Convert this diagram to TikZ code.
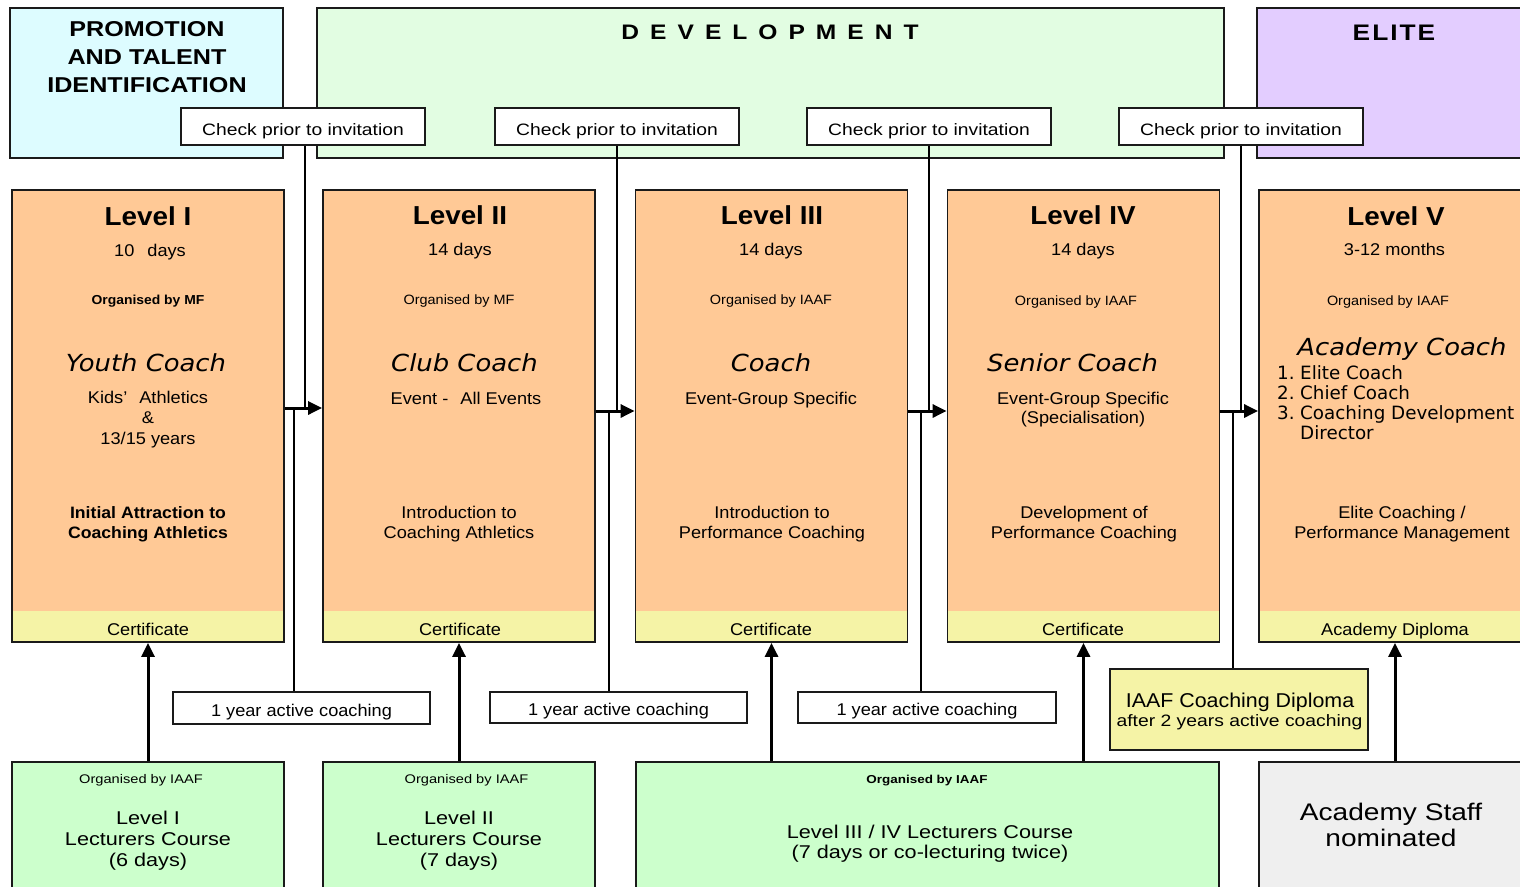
\documentclass[tikz,border=0pt]{standalone}
\usepackage{fontspec}
\usetikzlibrary{arrows.meta}
\setmainfont{Liberation Sans}[FakeStretch=1.07]
\newfontfamily\widefont{Liberation Sans}[FakeStretch=1.17]
\newfontfamily\rolefont{DejaVu Sans}[FakeStretch=1.1]
\newfontfamily\listfont{DejaVu Sans}
\newcommand\fsz[2]{\fontsize{#1pt}{#2pt}\selectfont}

\definecolor{edge}{HTML}{1A1A1A}
\definecolor{peach}{HTML}{FFC996}
\definecolor{band}{HTML}{F5F3A6}
\definecolor{promobg}{HTML}{DDFCFF}
\definecolor{devbg}{HTML}{E2FDE2}
\definecolor{elitebg}{HTML}{E3CDFF}
\definecolor{coursegreen}{HTML}{CCFFCC}
\definecolor{staffgray}{HTML}{EFEFEF}

\tikzset{
  box/.style={draw=edge, line width=1.5pt, inner sep=0pt},
  lvl/.style={box, line width=1.8pt, fill=peach, minimum width=272pt, minimum height=452pt,
    path picture={\fill[band] (path picture bounding box.south west) rectangle
      ([yshift=31pt]path picture bounding box.south east);}},
  hdr/.style={box, minimum height=150pt},
  tag/.style={box, fill=white},
  course/.style={box, minimum width=272pt, minimum height=148pt},
  % multi-line texts are placed by the baseline of their last line
  txt/.style={inner sep=0pt, anchor=base, align=center},
  link/.style={line width=1.4pt, draw=black},
  flow/.style={line width=3pt, draw=black, -{Triangle[length=14pt,width=13pt]}},
}

\begin{document}
\begin{tikzpicture}[x=1pt,y=-1pt]
\useasboundingbox (0,0) rectangle (1520,886);
\clip (0,0) rectangle (1520,886);

% ---- stage headers ----
\node[hdr, fill=promobg, minimum width=273pt] (promo) at (146.5,83) {};
\node[hdr, fill=devbg, minimum width=907pt] (dev) at (770.5,83) {};
\node[hdr, fill=elitebg, minimum width=273pt] (elite) at (1393.5,83) {};
\node[txt, font=\widefont\bfseries\fsz{21.5}{28.3}] (promoT) at (147,92.7)
  {PROMOTION\\AND TALENT\\IDENTIFICATION};
\node[txt, font=\widefont\bfseries\fsz{21}{25}] (devT) at (770,39.3)
  {D\kern11pt E\kern11pt V\kern11pt E\kern11pt L\kern11pt O\kern11pt P\kern11pt M\kern11pt E\kern11pt N\kern11pt T};
\node[txt, font=\widefont\bfseries\fsz{22.5}{26}] (eliteT) at (1394,40.7)
  {E\kern2pt L\kern2pt I\kern2pt T\kern2pt E};

% ---- entry checks ----
\foreach \n/\x in {c1/303, c2/617, c3/929, c4/1241}{
  \node[tag, minimum width=244pt, minimum height=37pt] (\n) at (\x,126.5) {};
  \node[txt, font=\widefont\fsz{16.5}{20}] (\n t) at (\x,135) {Check prior to invitation};
}

% ---- level boxes ----
\node[lvl] (L1) at (148,416) {};
\node[lvl] (L2) at (459,416) {};
\node[lvl] (L3) at (771.5,416) {};
\node[lvl] (L4) at (1083.5,416) {};
\node[lvl] (L5) at (1395,416) {};

\tikzset{
  ttl/.style={txt, font=\bfseries\fsz{26}{30}},
  dur/.style={txt, font=\fsz{17}{20}},
  org/.style={txt, font=\fsz{13.5}{16}},
  role/.style={txt, font=\rolefont\itshape\fsz{23.5}{28}},
  body/.style={txt, font=\fsz{17}{20.3}},
}

% Level I
\node[ttl] (L1t) at (148,225) {Level I};
\node[dur] (L1d) at (150,256) {10\hspace{8pt} days};
\node[org, font=\bfseries\fsz{13}{16}] (L1o) at (148,304) {Organised by MF};
\node[role] (L1r) at (146,371) {Youth Coach};
\node[body] (L1k) at (148,444) {Kids’\hspace{7pt} Athletics\\\&\\13/15 years};
\node[body, font=\bfseries\fsz{16.5}{20}] (L1a) at (148,538.7) {Initial Attraction to\\Coaching Athletics};
\node[dur] (L1c) at (148,635.3) {Certificate};

% Level II
\node[ttl] (L2t) at (460,224) {Level II};
\node[dur] (L2d) at (460,255) {14 days};
\node[org] (L2o) at (459,304) {Organised by MF};
\node[role] (L2r) at (464.5,371) {Club Coach};
\node[body] (L2k) at (466,404) {Event -\hspace{7pt} All Events};
\node[body] (L2a) at (459,538.7) {Introduction to\\Coaching Athletics};
\node[dur] (L2c) at (460,635.3) {Certificate};

% Level III
\node[ttl] (L3t) at (772,224) {Level III};
\node[dur] (L3d) at (771,255) {14 days};
\node[org] (L3o) at (771,304) {Organised by IAAF};
\node[role] (L3r) at (771,371) {Coach};
\node[body] (L3k) at (771,404) {Event-Group Specific};
\node[body] (L3a) at (772,538.7) {Introduction to\\Performance Coaching};
\node[dur] (L3c) at (771,635.3) {Certificate};

% Level IV
\node[ttl] (L4t) at (1083,224) {Level IV};
\node[dur] (L4d) at (1083,255) {14 days};
\node[org] (L4o) at (1076,305) {Organised by IAAF};
\node[role] (L4r) at (1072.5,371) {Senior Coach};
\node[body, font=\fsz{17}{18.5}] (L4k) at (1083,423) {Event-Group Specific\\(Specialisation)};
\node[body] (L4a) at (1084,538.7) {Development of\\Performance Coaching};
\node[dur] (L4c) at (1083,635.3) {Certificate};

% Level V
\node[ttl] (L5t) at (1396,225) {Level V};
\node[dur] (L5d) at (1394.5,255.7) {3-12 months};
\node[org] (L5o) at (1388,305.7) {Organised by IAAF};
\node[role] (L5r) at (1402,355.7) {Academy Coach};
\node[txt, anchor=base west, align=left, font=\listfont\fsz{18.3}{20}] (L5k) at (1277,439)
  {\makebox[23pt][l]{1.}Elite Coach\\\makebox[23pt][l]{2.}Chief Coach\\
   \makebox[23pt][l]{3.}Coaching Development\\\makebox[23pt][l]{}Director};
\node[body] (L5a) at (1402,538.7) {Elite Coaching /\\Performance Management};
\node[dur] (L5c) at (1395,635.3) {Academy Diploma};

% ---- progression arrows and their conditions ----
\coordinate (r1) at (0,408);
\coordinate (r2) at (0,411);
\draw[flow] (L1.east |- r1) -- (L2.west |- r1);
\draw[flow] (L2.east |- r2) -- (L3.west |- r2);
\draw[flow] (L3.east |- r2) -- (L4.west |- r2);
\draw[flow] (L4.east |- r2) -- (L5.west |- r2);

\coordinate (v1) at (305,408);
\coordinate (v2) at (617,411);
\coordinate (v3) at (929,411);
\coordinate (v4) at (1241,411);
\draw[link] (c1.south -| v1) -- (v1);
\draw[link] (c2.south -| v2) -- (v2);
\draw[link] (c3.south -| v3) -- (v3);
\draw[link] (c4.south -| v4) -- (v4);

\node[tag, minimum width=257pt, minimum height=32pt] (y1) at (301.5,708) {};
\node[tag, minimum width=257pt, minimum height=31pt] (y2) at (618.5,707.5) {};
\node[tag, minimum width=258pt, minimum height=31pt] (y3) at (927,707.5) {};
\node[txt, font=\fsz{17}{20}] (y1t) at (301.5,716) {1 year active coaching};
\node[txt, font=\fsz{17}{20}] (y2t) at (618.5,715.5) {1 year active coaching};
\node[txt, font=\fsz{17}{20}] (y3t) at (927,715.5) {1 year active coaching};
\node[box, fill=band, minimum width=258pt, minimum height=81pt] (dip) at (1239,709.5) {};
\node[txt, font=\fsz{20}{22}] (dipA) at (1240,707.7) {IAAF Coaching Diploma};
\node[txt, font=\widefont\fsz{16.5}{20}] (dipB) at (1239.5,726) {after 2 years active coaching};

\coordinate (w1) at (294,408);
\coordinate (w2) at (609,411);
\coordinate (w3) at (921,411);
\coordinate (w4) at (1233,411);
\draw[link] (w1) -- (y1.north -| w1);
\draw[link] (w2) -- (y2.north -| w2);
\draw[link] (w3) -- (y3.north -| w3);
\draw[link] (w4) -- (dip.north -| w4);

% ---- lecturer courses ----
\node[course, fill=coursegreen] (g1) at (148,836) {};
\node[course, fill=coursegreen] (g2) at (459,836) {};
\node[course, fill=coursegreen, minimum width=583pt] (g3) at (927.5,836) {};
\node[course, fill=staffgray] (g5) at (1395,836) {};

\node[txt, font=\widefont\fsz{12.5}{15}] (g1o) at (141,783) {Organised by IAAF};
\node[txt, font=\widefont\fsz{18.5}{21}] (g1t) at (148,866) {Level I\\Lecturers Course\\(6 days)};
\node[txt, font=\widefont\fsz{12.5}{15}] (g2o) at (466.5,783) {Organised by IAAF};
\node[txt, font=\widefont\fsz{18.5}{21}] (g2t) at (459,866) {Level II\\Lecturers Course\\(7 days)};
\node[txt, font=\widefont\bfseries\fsz{11.5}{15}] (g3o) at (927,783) {Organised by IAAF};
\node[txt, font=\widefont\fsz{18.5}{20}] (g3t) at (930,858.3) {Level III / IV Lecturers Course\\(7 days or co-lecturing twice)};
\node[txt, font=\widefont\fsz{24}{26.7}] (g5t) at (1391,846.7) {Academy Staff\\nominated};

\draw[flow] (g1.north -| L1.south) -- (L1.south);
\draw[flow] (g2.north -| L2.south) -- (L2.south);
\draw[flow] (g3.north -| L3.south) -- (L3.south);
\draw[flow] (g3.north -| L4.south) -- (L4.south);
\draw[flow] (g5.north -| L5.south) -- (L5.south);
\end{tikzpicture}
\end{document}
